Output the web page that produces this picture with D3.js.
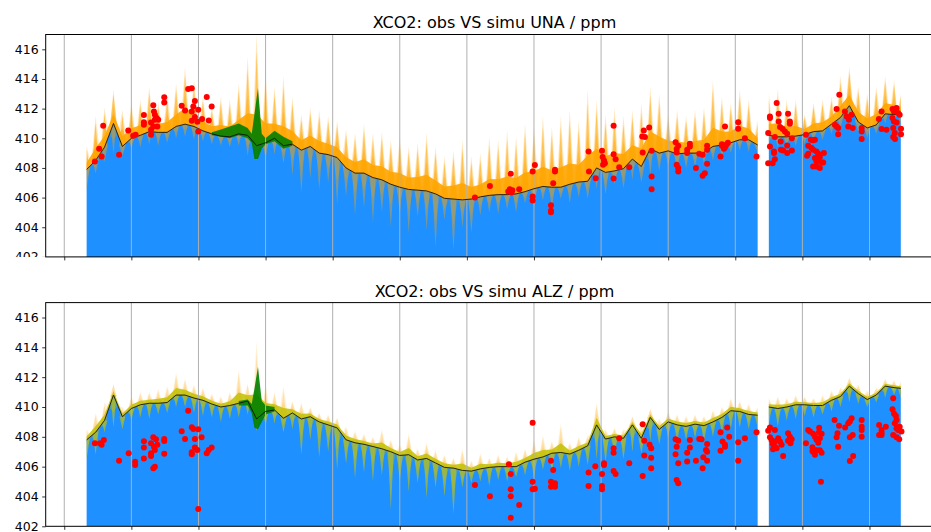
<!DOCTYPE html>
<html><head><meta charset="utf-8">
<script src="https://cdn.jsdelivr.net/npm/d3@7"></script>
<style>body{margin:0;background:#fff}svg{display:block}text{font-family:"DejaVu Sans",sans-serif;fill:#000}</style>
</head><body><svg id="c" width="931" height="532"></svg>
<script>
// ---- sample days (x in days, gridlines every 30 days) ----
const sampleDays = [10,14,18,22,26,30,34,38,42,46,50,54,58,62,66,70,74,78,82,86,90,94,98,102,106,110,114,118,122,126,130,134,138,142,146,150,154,158,162,166,170,174,178,182,186,190,194,198,202,206,210,214,218,222,226,230,234,238,242,246,250,254,258,262,266,270,274,278,282,286,290,294,298,302,306,310,
315,319,323,327,331,335,339,343,347,351,355,359,363,367,371,374];

// ---- UNA simulation ----
const unaSim = [407.9,408.5,409.4,411.0,409.45,410.0,410.2,410.45,410.4,410.4,410.8,410.95,410.8,410.5,410.3,410.15,410.1,410.3,410.2,409.5,409.7,410.0,409.5,409.6,409.2,409.45,409.0,408.9,408.7,408.0,407.65,407.65,407.35,407.2,406.9,406.7,406.55,406.5,406.45,406.25,405.95,405.9,405.85,405.9,406.05,406.15,406.2,406.2,406.25,406.4,406.6,406.75,406.7,406.7,406.9,407.05,407.1,408.0,407.7,407.8,407.95,408.6,408.1,409.3,409.0,409.15,408.95,409.0,409.0,409.05,409.45,409.55,409.7,409.9,409.9,409.55,
410.2,410.1,410.1,410.15,410.25,410.45,410.5,410.95,411.4,412.2,411.1,410.7,410.9,411.65,411.6,411.6];
const unaHi = [409.5,411.5,412.1,413.3,411.9,412.4,412.6,413.5,412.4,412.9,413.7,414.85,413.95,412.8,412.1,412.8,412.6,413.7,415.5,417.0,414.4,413.5,414.2,412.8,411.6,412.1,411.9,411.5,411.2,410.6,410.35,411.0,410.35,410.45,409.9,410.1,409.45,409.7,410.35,409.45,408.8,409.2,409.9,408.8,409.0,410.1,409.9,410.55,410.1,411.0,410.8,411.5,410.8,411.5,411.9,411.2,413.3,412.6,411.6,412.1,411.5,411.9,412.4,413.5,413.0,411.6,411.9,411.5,411.9,412.1,413.95,412.8,412.4,413.3,412.6,411.2,
413.0,413.3,412.6,412.6,411.6,412.4,412.6,412.8,414.2,414.85,413.5,413.0,413.5,414.2,413.95,413.0];
const unaLo = [406.5,407.6,408.4,408.9,408.8,409.3,409.4,409.6,409.5,409.7,410.0,410.1,409.9,409.8,409.6,409.5,409.4,409.5,408.8,408.5,408.6,408.9,408.3,407.5,406.3,407.3,406.5,407.0,405.5,406.1,404.8,405.3,404.3,405.0,404.0,404.9,403.6,404.7,403.8,402.6,404.5,402.4,404.0,403.6,404.8,405.0,404.9,405.2,405.0,405.6,405.3,405.8,405.2,405.9,405.6,406.0,405.9,406.6,406.2,406.9,406.6,407.2,407.0,407.5,407.8,408.1,407.7,408.0,408.1,408.3,408.5,408.7,409.0,409.2,409.1,409.0,
409.6,409.4,409.3,409.5,409.6,409.8,409.9,410.3,410.7,410.9,410.4,410.0,410.3,411.0,411.0,411.0];
const unaGreenDays = [66,70,74,78,82,83.8,85,86.6,88.3,90,94,98,102];
const unaGreenTop  = [410.4,410.6,410.8,411.0,410.7,410.3,411.6,413.4,410.3,410.0,410.5,410.1,409.8];
const unaGreenLow  = [410.2,410.1,410.0,410.2,410.0,409.7,408.6,408.6,409.3,409.6,409.8,409.3,409.5];

// ---- ALZ simulation ----
const alzSim = [407.8,408.3,409.1,410.8,409.35,409.9,410.15,410.25,410.25,410.3,410.8,410.8,410.6,410.45,410.2,410.0,410.1,410.25,410.4,409.2,409.7,409.8,409.25,409.6,409.2,409.35,409.0,408.8,408.6,407.8,407.6,407.5,407.35,407.2,407.0,406.75,406.8,406.45,406.55,406.25,405.95,405.9,405.75,405.7,405.85,405.95,406.0,406.0,406.0,406.3,406.5,406.65,406.9,406.95,406.85,407.1,407.4,408.8,407.85,408.0,407.9,408.8,407.9,409.3,408.5,409.0,408.8,408.7,408.85,408.75,409.0,409.3,409.75,409.7,409.5,409.45,
410.0,409.9,410.0,410.15,410.15,410.1,410.1,410.45,410.7,411.4,410.9,410.5,410.8,411.4,411.3,411.25];
const alzHi = [408.5,409.6,410.3,411.6,410.0,410.7,411.0,411.0,411.2,411.4,412.3,411.9,411.5,411.3,410.9,410.7,411.0,412.5,411.6,414.4,411.5,411.0,411.4,410.4,410.3,410.0,409.6,409.5,409.3,408.7,408.4,408.2,408.0,408.5,407.8,407.5,408.2,407.2,407.6,407.1,406.8,406.6,407.2,406.4,406.9,406.6,406.8,406.7,407.0,407.2,407.8,408.1,407.7,408.9,407.6,408.0,408.1,410.3,408.5,408.6,408.5,409.4,408.8,409.9,409.2,409.7,409.5,409.4,409.5,409.4,409.8,410.0,410.6,410.4,410.2,410.0,
410.6,410.7,410.6,410.8,410.7,410.6,410.8,411.1,411.3,412.0,411.5,411.1,411.3,411.9,411.8,411.7];
const alzLo = [406.5,406.8,408.3,408.6,408.5,409.1,409.3,409.2,409.5,409.6,410.0,410.0,409.6,409.4,409.3,409.0,409.2,409.3,409.5,408.4,408.8,408.9,408.3,408.5,406.8,407.8,406.6,407.0,405.8,406.2,405.2,405.6,405.0,405.4,403.1,405.0,404.3,404.9,403.9,404.6,404.0,402.8,404.6,404.9,405.0,404.7,405.1,405.0,405.3,405.4,405.2,405.8,405.6,405.9,405.7,406.0,406.1,406.5,406.3,406.6,406.5,407.0,406.9,407.7,407.5,407.9,407.6,407.8,407.9,407.7,408.0,408.2,408.5,408.6,408.5,408.6,
408.8,408.7,409.1,409.2,409.4,409.3,409.5,409.7,410.0,410.3,410.2,410.0,410.3,410.6,410.8,410.6];
const alzGreenDays = [78,82,83.8,85,86.6,88.3,90,94];
const alzGreenTop  = [410.4,410.5,410.2,411.2,412.7,410.4,410.1,410.0];
const alzGreenLow  = [410.1,410.1,409.6,408.6,408.5,409.0,409.5,409.7];

// ---- observations ----
const unaObsDays = [13.7,15.6,16.7,17.4,24.5,28.6,30.8,31.9,35.6,35.6,35.6,38.8,38.8,38.8,39.8,40.1,40.5,40.5,41.3,41.6,42.0,39.8,44.7,44.7,52.5,54.0,55.4,57.0,57.0,57.0,57.7,58.4,58.4,59.5,59.9,59.9,61.6,63.7,64.6,65.9,
183.6,190.3,198.5,199.2,199.6,200.0,200.3,203.4,209.4,209.4,209.4,210.4,217.6,217.6,217.6,218.6,219.4,219.4,234.4,234.6,237.6,240.4,240.7,240.9,241.7,241.3,245.6,245.6,245.6,246.5,248.1,252.6,258.4,259.1,259.6,261.5,258.6,262.6,262.6,262.6,273.3,273.8,273.8,273.8,274.5,274.5,274.5,278.5,278.5,279.7,279.7,282.4,283.9,
285.4,286.4,287.4,287.4,287.4,285.4,293.4,294.0,294.9,295.4,296.2,296.7,294.0,295.4,301.3,301.3,304.3,309.5,314.7,314.7,315.5,315.5,315.5,316.7,317.7,317.3,317.3,317.7,318.5,319.4,319.4,320.0,321.2,320.3,320.4,321.4,322.2,323.2,323.2,323.2,323.6,324.4,324.4,325.3,325.3,331.6,332.6,332.6,333.8,334.8,335.6,334.1,334.8,336.3,337.1,335.6,336.3,337.1,337.8,338.6,339.6,339.3,334.8,336.3,337.8,332.1,345.3,346.5,344.5,345.3,346.0,346.0,349.0,349.8,350.8,352.0,350.5,352.5,356.5,356.5,356.5,364.2,365.4,365.4,367.6,370.3,370.9,372.1,370.3,370.9,372.1,370.6,371.3,370.6,371.4,372.8,373.5,374.1,374.1];
const unaObs = [408.43,409.29,408.77,410.84,408.89,410.53,410.17,410.24,411.57,411.09,410.91,411.07,410.57,410.24,412.22,411.81,411.59,411.25,411.36,410.80,411.25,410.8,412.76,412.42,412.2,411.88,413.32,413.37,411.81,411.18,412.15,412.51,411.43,411.11,410.46,411.93,411.3,412.78,411.2,412.15,
406.0,406.79,406.41,406.57,407.6,406.34,406.5,406.57,406.07,405.8,407.76,408.19,405.49,405.12,405.01,406.97,407.87,407.76,409.11,407.76,407.31,409.16,408.73,408.21,408.32,408.5,410.84,408.93,407.28,408.59,408.05,408.05,410.12,410.53,410.08,410.73,409.04,409.16,407.42,406.57,409.74,409.27,409.04,408.21,407.99,407.76,409.5,409.22,409.0,409.63,409.45,407.99,408.95,
407.47,407.65,408.28,409.22,409.49,408.89,408.77,409.5,409.3,409.4,409.6,409.7,409.6,410.8,411.09,410.64,410.01,408.77,408.32,410.35,411.47,411.36,409.45,408.32,408.59,409.11,409.0,410.08,412.38,411.66,411.14,410.76,410.62,409.78,409.22,409.18,410.46,410.3,409.51,409.0,411.66,411.14,410.98,410.01,409.18,410.24,409.49,408.95,409.9,409.87,409.9,409.34,409.22,409.11,408.95,408.67,408.43,408.55,408.73,408.36,409.0,408.36,408.09,408.09,407.99,408.82,411.97,412.94,410.91,410.8,410.69,410.28,411.81,411.47,411.25,411.59,410.8,410.69,410.69,410.46,409.95,411.3,411.81,410.62,410.57,411.97,411.81,412.04,411.36,411.14,411.07,410.69,410.35,410.08,409.95,411.7,411.59,410.64,410.28];

const alzObsDays = [13.7,16.0,16.7,17.7,24.5,28.8,31.7,31.7,35.6,35.6,35.6,38.8,38.8,38.8,39.8,40.1,40.5,41.0,41.6,39.8,40.5,44.7,44.7,44.7,52.5,54.0,55.4,57.0,57.7,58.4,59.9,61.4,58.4,59.5,57.0,57.0,59.9,63.7,64.6,65.9,
183.6,190.3,198.8,199.6,199.6,199.6,199.6,203.4,209.4,209.4,209.4,210.4,217.6,218.6,217.6,217.6,219.4,219.4,234.4,234.4,237.4,240.4,240.4,240.4,241.3,241.3,245.6,245.6,245.6,246.5,248.1,252.6,258.6,259.3,259.3,261.7,262.4,262.4,262.4,258.6,273.3,274.5,273.8,273.3,274.5,273.8,274.5,278.5,278.5,279.7,279.7,282.4,283.9,
284.9,287.4,286.9,287.4,285.7,287.4,285.4,293.4,294.3,295.4,295.4,296.4,297.3,293.4,301.3,301.3,304.3,309.5,314.7,315.5,317.7,315.5,316.2,317.7,316.7,317.7,318.5,316.9,319.2,320.0,320.7,321.4,323.6,324.4,325.2,323.6,324.7,331.6,332.6,333.4,334.8,335.6,336.3,337.1,337.8,338.6,337.5,337.4,334.5,334.8,335.6,336.3,337.8,338.6,338.3,334.5,344.4,346.4,345.7,345.3,346.0,349.1,350.5,351.2,352.0,352.5,351.2,352.7,351.2,356.5,356.5,356.5,356.5,364.3,365.4,365.4,364.3,365.4,367.3,370.6,370.3,371.0,371.8,372.1,371.3,372.1,372.8,373.5,374.3,370.6,372.1,373.3];
const alzObs = [407.57,407.57,407.46,407.79,406.40,406.9,406.32,406.11,407.7,407.28,406.54,407.57,406.9,406.72,407.97,407.34,407.12,407.84,407.46,405.89,406.0,407.86,407.72,406.87,408.37,407.86,409.74,408.64,408.53,407.86,408.51,407.97,407.28,407.12,406.97,406.83,403.16,406.9,407.12,407.28,
404.77,404.01,406.16,405.51,404.48,404.01,402.58,403.43,408.95,404.99,404.48,404.52,406.4,405.78,404.99,404.66,404.88,404.66,405.6,404.7,406.03,405.51,404.7,404.48,406.23,406.11,407.23,406.94,405.71,405.51,407.9,406.23,408.85,407.73,406.74,407.46,407.23,406.6,405.89,405.38,407.84,407.73,407.34,406.83,406.23,405.11,404.88,406.94,406.34,407.79,407.28,406.4,407.86,
407.84,407.52,407.12,407.0,406.63,406.4,405.89,408.31,407.68,407.46,407.34,408.62,408.01,407.07,407.64,406.4,407.9,408.31,408.4,408.62,408.46,407.97,407.79,407.68,407.52,407.34,407.23,407.17,407.9,407.68,407.46,406.72,408.24,408.01,407.84,407.74,407.57,407.57,408.46,408.35,408.2,408.0,407.8,407.6,407.9,408.2,408.6,408.3,407.3,407.0,406.8,407.1,407.1,406.94,404.99,407.05,409.13,408.75,408.24,407.97,407.34,408.62,408.91,409.02,409.25,408.13,407.97,406.72,406.38,409.13,408.68,408.46,408.01,408.8,408.46,408.28,408.13,408.13,408.68,410.59,409.85,409.54,409.4,409.13,408.91,408.58,408.46,408.68,408.35,408.13,407.97,407.84];

const yTicks = [402,404,406,408,410,412,414,416];
const xTickDays = [0,30,60,90,120,150,180,210,240,270,300,330,360];
const titles = ["XCO2: obs VS simu UNA / ppm", "XCO2: obs VS simu ALZ / ppm"];

// ---- layout ----
const svg = d3.select("#c");
const x = d3.scaleLinear().domain([-8.3, 393]).range([45.7, 943.3]);

const panels = [
  {title: titles[0], top: 34.5, bottom: 256.9, titleY: 28, sim: unaSim, hi: unaHi, lo: unaLo,
   gDays: unaGreenDays, gTop: unaGreenTop, gLow: unaGreenLow, obsD: unaObsDays, obs: unaObs,
   upColor: "#ffa500", loColor: "#ffa500", loOpacity: 0.4, bandColor: "#ffa500", bandFrac: 0.28, bandOp: 0.9, midOp: 0.55, faintOp: 0.25, clipLabels: true},
  {title: titles[1], top: 302.6, bottom: 526.3, titleY: 296.7, sim: alzSim, hi: alzHi, lo: alzLo,
   gDays: alzGreenDays, gTop: alzGreenTop, gLow: alzGreenLow, obsD: alzObsDays, obs: alzObs,
   upColor: "#ffa500", loColor: "#c9c400", loOpacity: 0.6, bandColor: "#c2c000", bandFrac: 0.32, bandOp: 0.85, midOp: 0.22, faintOp: 0.16, clipLabels: false}
];

// split sample indices into continuous segments
const segments = [];
let cur = [0];
for (let i = 1; i < sampleDays.length; i++) {
  if (sampleDays[i] - sampleDays[i-1] > 4.5) { segments.push(cur); cur = []; }
  cur.push(i);
}
segments.push(cur);

panels.forEach((p, pi) => {
  const y = d3.scaleLinear().domain([402, 417]).range([p.bottom, p.top]);
  const clipId = "clip" + pi;
  svg.append("clipPath").attr("id", clipId).append("rect")
    .attr("x", x.range()[0]).attr("y", p.top).attr("width", x.range()[1] - x.range()[0]).attr("height", p.bottom - p.top);
  const g = svg.append("g").attr("clip-path", `url(#${clipId})`);

  // spike outline: peak at each sample, back to the sim line at +/- hw days (hw null => between samples)
  function jag(seg, vals, frac, hw) {
    const pts = [];
    seg.forEach((i, k) => {
      const s = p.sim[i];
      const d = sampleDays[i];
      if (hw && k > 0) pts.push({d: d - hw, s: s, v: s});
      pts.push({d: d, s: s, v: s + frac * (vals[i] - s)});
      if (hw && k < seg.length - 1) pts.push({d: d + hw, s: s, v: s});
      if (!hw && k < seg.length - 1) {
        const j = seg[k+1];
        const ms = (p.sim[i] + p.sim[j]) / 2;
        pts.push({d: (d + sampleDays[j]) / 2, s: ms, v: ms});
      }
    });
    return pts;
  }
  const areaJ = d3.area().x(d => x(d.d)).y0(d => y(d.s)).y1(d => y(d.v));

  segments.forEach(seg => {
    g.append("path")
      .attr("d", d3.area().x(i => x(sampleDays[i])).y0(y(402)).y1(i => y(p.sim[i]))(seg))
      .attr("fill", "#1e90ff");
    // downward spikes (thin) + light wide shading
    g.append("path").attr("d", areaJ(jag(seg, p.lo, 0.5, null))).attr("fill", p.loColor).attr("fill-opacity", p.loOpacity * 0.55);
    g.append("path").attr("d", areaJ(jag(seg, p.lo, 1, 1.3))).attr("fill", p.loColor).attr("fill-opacity", p.loOpacity);
    // upward spikes
    g.append("path").attr("d", areaJ(jag(seg, p.hi, 1, null))).attr("fill", p.upColor).attr("fill-opacity", p.faintOp);
    g.append("path").attr("d", areaJ(jag(seg, p.hi, 0.85, 1.4))).attr("fill", p.upColor).attr("fill-opacity", p.midOp);
    g.append("path").attr("d", areaJ(jag(seg, p.hi, 0.5, null))).attr("fill", p.upColor).attr("fill-opacity", p.midOp * 0.7);
    g.append("path")
      .attr("d", d3.area().x(i => x(sampleDays[i])).y0(i => y(p.sim[i])).y1(i => y(p.sim[i] + p.bandFrac * (p.hi[i] - p.sim[i])))(seg))
      .attr("fill", p.bandColor).attr("fill-opacity", p.bandOp);
  });

  g.append("path")
    .attr("d", d3.area().x((d, k) => x(p.gDays[k])).y0((d, k) => y(p.gLow[k])).y1((d, k) => y(p.gTop[k]))(p.gDays))
    .attr("fill", "#008000").attr("fill-opacity", 0.9);

  g.selectAll(".grid").data(xTickDays).enter().append("line")
    .attr("x1", d => x(d)).attr("x2", d => x(d)).attr("y1", p.top).attr("y2", p.bottom)
    .attr("stroke", "#b0b0b0").attr("stroke-width", 1);

  segments.forEach(seg => {
    g.append("path")
      .attr("d", d3.line().x(i => x(sampleDays[i])).y(i => y(p.sim[i]))(seg))
      .attr("fill", "none").attr("stroke", "#111").attr("stroke-width", 0.9);
  });

  g.selectAll(".obs").data(p.obs).enter().append("circle")
    .attr("cx", (d, k) => x(p.obsD[k])).attr("cy", d => y(d)).attr("r", 3).attr("fill", "#ff0000");

  const yAxisG = svg.append("g").attr("transform", `translate(${x.range()[0]},0)`)
    .call(d3.axisLeft(y).tickValues(yTicks).tickFormat(d3.format("d")).tickSize(3.5).tickPadding(3.5));
  yAxisG.select(".domain").remove();
  yAxisG.selectAll("text").style("font-size", "12.5px").attr("fill", "#000");
  yAxisG.selectAll("line").attr("stroke", "#000").attr("stroke-width", 0.8);
  if (p.clipLabels) {
    svg.append("clipPath").attr("id", "lab" + pi).append("rect")
      .attr("x", -60).attr("y", 0).attr("width", 60).attr("height", p.bottom);
    yAxisG.attr("clip-path", `url(#lab${pi})`);
  }
  const xAxisG = svg.append("g").attr("transform", `translate(0,${p.bottom})`)
    .call(d3.axisBottom(x).tickValues(xTickDays).tickFormat("").tickSize(3.5));
  xAxisG.select(".domain").remove();
  xAxisG.selectAll("line").attr("stroke", "#000").attr("stroke-width", 0.8);

  svg.append("rect").attr("x", x.range()[0]).attr("y", p.top)
    .attr("width", x.range()[1] - x.range()[0]).attr("height", p.bottom - p.top)
    .attr("fill", "none").attr("stroke", "#000").attr("stroke-width", 1);

  svg.append("text").attr("x", (x.range()[0] + x.range()[1]) / 2).attr("y", p.titleY)
    .attr("text-anchor", "middle").style("font-size", "16px").text(p.title);
});
</script></body></html>
